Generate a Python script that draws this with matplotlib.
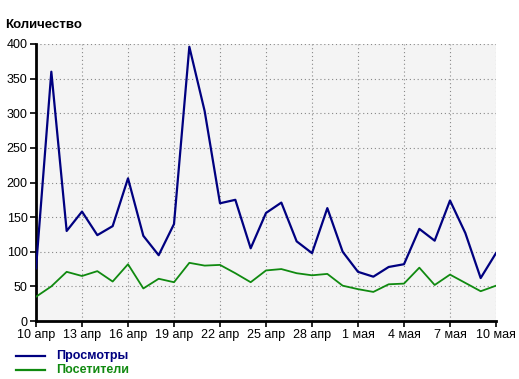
import numpy as np
import matplotlib.pyplot as plt
from matplotlib.lines import Line2D

plt.rcParams['font.family'] = ['Liberation Sans', 'DejaVu Sans']

days = np.arange(31)
tick_days = np.arange(0, 31, 3)
tick_labels = ['10 апр', '13 апр', '16 апр', '19 апр', '22 апр', '25 апр',
               '28 апр', '1 мая', '4 мая', '7 мая', '10 мая']

views = [76, 360, 130, 158, 124, 137, 206, 123, 95, 140,
         396, 303, 170, 175, 105, 156, 171, 115, 98, 163,
         100, 71, 64, 78, 82, 133, 116, 174, 127, 62, 98]
visitors = [35, 50, 71, 65, 72, 57, 82, 47, 61, 56,
            84, 80, 81, 69, 56, 73, 75, 69, 66, 68,
            51, 46, 42, 53, 54, 77, 52, 67, 55, 43, 51]

navy = '#000080'
green = '#108a10'

fig = plt.figure(figsize=(5.19, 3.79), dpi=100)
ax = fig.add_axes([36/519, 1 - 321/379, 460/519, 277/379])
ax.set_facecolor('#f4f4f4')

ax.plot(days, views, color=navy, lw=1.6, zorder=3)
ax.plot(days, visitors, color=green, lw=1.3, zorder=3)

ax.set_xlim(0, 30)
ax.set_ylim(0, 400)
ax.set_yticks(np.arange(0, 401, 50))
ax.set_xticks(tick_days)
ax.set_xticklabels(tick_labels)
ax.grid(True, color='#888888', ls=(0, (1, 2.5)), lw=0.8)
ax.tick_params(labelsize=9, length=4, width=1.2, pad=2)

for s in ['top', 'right']:
    ax.spines[s].set_visible(False)
for s in ['left', 'bottom']:
    ax.spines[s].set_linewidth(2)

fig.text(5/519, 1 - 25/379, 'Количество', fontsize=9.5, fontweight='bold',
         va='center', ha='left')

for i, (lbl, c) in enumerate([('Просмотры', navy), ('Посетители', green)]):
    y = 1 - (356 + 14 * i) / 379
    fig.add_artist(Line2D([16/519, 45/519], [y, y], color=c, lw=1.6,
                          transform=fig.transFigure))
    fig.text(56/519, y, lbl, color=c, fontsize=9, fontweight='bold',
             va='center', ha='left')

fig.savefig('out.png', dpi=100)
